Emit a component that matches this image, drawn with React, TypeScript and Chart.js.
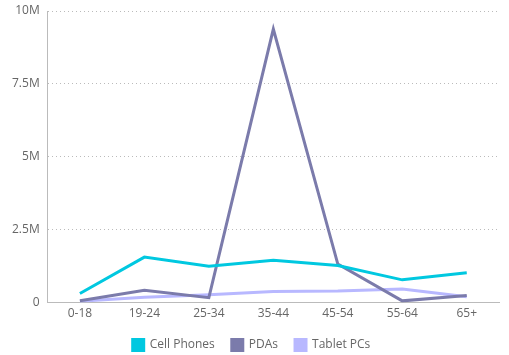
import React, { useEffect, useRef } from "react";
import { Chart, registerables } from "chart.js";

Chart.register(...registerables);

const categories = ["0-18", "19-24", "25-34", "35-44", "45-54", "55-64", "65+"];
const cellPhones = [310000, 1560000, 1250000, 1450000, 1270000, 780000, 1020000];
const pdas = [60000, 420000, 170000, 9380000, 1320000, 60000, 240000];
const tabletPCs = [50000, 180000, 270000, 380000, 400000, 470000, 200000];
const yTicks = [0, 2500000, 5000000, 7500000, 10000000];
const yTickLabels = ["0", "2.5M", "5M", "7.5M", "10M"];

export default function App() {
  const ref = useRef<HTMLCanvasElement | null>(null);
  useEffect(() => {
    document.body.style.margin = "0";
    if (!ref.current) return;
    const chart = new Chart(ref.current, {
      type: "line",
      data: {
        labels: categories,
        datasets: [
          { label: "Cell Phones", data: cellPhones, borderColor: "#00c8e0", backgroundColor: "#00c8e0" },
          { label: "PDAs", data: pdas, borderColor: "#7b7bab", backgroundColor: "#7b7bab" },
          { label: "Tablet PCs", data: tabletPCs, borderColor: "#b8b8ff", backgroundColor: "#b8b8ff" },
        ],
      },
      options: {
        responsive: false,
        animation: false,
        layout: { padding: { left: 4, right: 10, top: 11, bottom: -6 } },
        elements: {
          line: { borderWidth: 3, tension: 0 },
          point: { radius: 0, hoverRadius: 0 },
        },
        plugins: {
          tooltip: { enabled: false },
          legend: {
            position: "bottom",
            labels: {
              boxWidth: 11,
              boxHeight: 11,
              padding: 17,
              color: "#666",
              font: { family: "Open Sans", size: 12 },
            },
          },
        },
        scales: {
          x: {
            offset: true,
            grid: { display: false, drawTicks: true, tickLength: 3, color: "#bbb" },
            border: { display: true, color: "#bbb", width: 1 },
            ticks: { color: "#666", font: { family: "Open Sans", size: 12 }, padding: 1 },
          },
          y: {
            min: 0,
            max: 10000000,
            afterBuildTicks: (axis: any) => {
              axis.ticks = yTicks.map((v) => ({ value: v }));
            },
            afterFit: (axis: any) => {
              axis.paddingTop = 0;
            },
            grid: { color: "#bbb", drawTicks: false },
            border: { display: true, color: "#bbb", width: 1, dash: [1, 3] },
            ticks: {
              color: "#666",
              padding: 8,
              font: { family: "Open Sans", size: 12 },
              callback: (v: any) => {
                const i = yTicks.indexOf(Number(v));
                return i >= 0 ? yTickLabels[i] : "";
              },
            },
          },
        },
      },
    } as any);
    return () => chart.destroy();
  }, []);
  return (
    <div style={{ position: "fixed", left: 0, top: 0 }}>
      <canvas ref={ref} width={509} height={355} />
    </div>
  );
}
